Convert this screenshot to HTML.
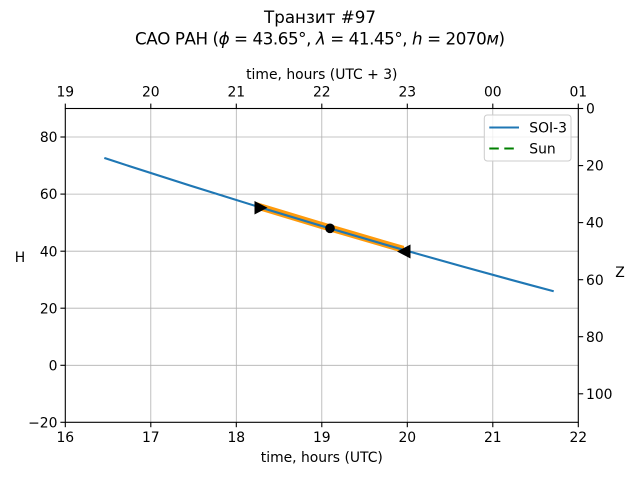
<!DOCTYPE html>
<html>
<head>
<meta charset="utf-8">
<style>
  html,body{margin:0;padding:0;background:#fff;}
  svg{display:block;}
  text{font-family:"DejaVu Sans","Liberation Sans",sans-serif;fill:#000;}
</style>
</head>
<body>
<svg width="640" height="480" viewBox="0 0 640 480" xmlns="http://www.w3.org/2000/svg">
  <rect x="0" y="0" width="640" height="480" fill="#fff"/>

  <!-- Titles -->
  <text x="320" y="23" font-size="16.7" text-anchor="middle">Транзит #97</text>
  <text x="320" y="44.5" font-size="16.7" text-anchor="middle" textLength="370" lengthAdjust="spacing">САО РАН (<tspan font-style="italic">ϕ</tspan> = 43.65°, <tspan font-style="italic">λ</tspan> = 41.45°, <tspan font-style="italic">h</tspan> = 2070<tspan font-style="italic">м</tspan>)</text>

  <!-- Grid -->
  <g stroke="#b0b0b0" stroke-width="0.8">
    <line x1="150.8" y1="108.5" x2="150.8" y2="422.3"/>
    <line x1="236.3" y1="108.5" x2="236.3" y2="422.3"/>
    <line x1="321.8" y1="108.5" x2="321.8" y2="422.3"/>
    <line x1="407.3" y1="108.5" x2="407.3" y2="422.3"/>
    <line x1="492.8" y1="108.5" x2="492.8" y2="422.3"/>
    <line x1="65.3" y1="137.0" x2="578.3" y2="137.0"/>
    <line x1="65.3" y1="194.1" x2="578.3" y2="194.1"/>
    <line x1="65.3" y1="251.2" x2="578.3" y2="251.2"/>
    <line x1="65.3" y1="308.2" x2="578.3" y2="308.2"/>
    <line x1="65.3" y1="365.3" x2="578.3" y2="365.3"/>
  </g>

  <defs>
    <clipPath id="seg"><rect x="257" y="100" width="147" height="200"/></clipPath>
  </defs>

  <!-- Orange band -->
  <path d="M105.3,158.3 Q329,231.6 552.7,291" fill="none" stroke="#ff9a0a" stroke-width="7" clip-path="url(#seg)" transform="translate(0,-0.5)"/>
  <!-- Blue line -->
  <path d="M105.3,158.3 Q329,231.6 552.7,291" fill="none" stroke="#1f77b4" stroke-width="2.1" stroke-linecap="square"/>

  <!-- Markers -->
  <polygon points="254.5,201 254.5,214.5 267.5,207.7" fill="#000"/>
  <circle cx="330" cy="228.3" r="4.8" fill="#000"/>
  <polygon points="397,251.5 410.5,244.5 410.5,258.5" fill="#000"/>

  <!-- Spines -->
  <rect x="65.3" y="108.5" width="513" height="313.8" fill="none" stroke="#000" stroke-width="1.1"/>

  <!-- Ticks -->
  <g stroke="#000" stroke-width="1.1">
    <line x1="65.3" y1="422.3" x2="65.3" y2="427.2"/>
    <line x1="150.8" y1="422.3" x2="150.8" y2="427.2"/>
    <line x1="236.3" y1="422.3" x2="236.3" y2="427.2"/>
    <line x1="321.8" y1="422.3" x2="321.8" y2="427.2"/>
    <line x1="407.3" y1="422.3" x2="407.3" y2="427.2"/>
    <line x1="492.8" y1="422.3" x2="492.8" y2="427.2"/>
    <line x1="578.3" y1="422.3" x2="578.3" y2="427.2"/>
    <line x1="65.3" y1="108.5" x2="65.3" y2="103.6"/>
    <line x1="150.8" y1="108.5" x2="150.8" y2="103.6"/>
    <line x1="236.3" y1="108.5" x2="236.3" y2="103.6"/>
    <line x1="321.8" y1="108.5" x2="321.8" y2="103.6"/>
    <line x1="407.3" y1="108.5" x2="407.3" y2="103.6"/>
    <line x1="492.8" y1="108.5" x2="492.8" y2="103.6"/>
    <line x1="578.3" y1="108.5" x2="578.3" y2="103.6"/>
    <line x1="65.3" y1="137.0" x2="60.4" y2="137.0"/>
    <line x1="65.3" y1="194.1" x2="60.4" y2="194.1"/>
    <line x1="65.3" y1="251.2" x2="60.4" y2="251.2"/>
    <line x1="65.3" y1="308.2" x2="60.4" y2="308.2"/>
    <line x1="65.3" y1="365.3" x2="60.4" y2="365.3"/>
    <line x1="65.3" y1="422.3" x2="60.4" y2="422.3"/>
    <line x1="578.3" y1="108.5" x2="583.2" y2="108.5"/>
    <line x1="578.3" y1="165.6" x2="583.2" y2="165.6"/>
    <line x1="578.3" y1="222.6" x2="583.2" y2="222.6"/>
    <line x1="578.3" y1="279.7" x2="583.2" y2="279.7"/>
    <line x1="578.3" y1="336.7" x2="583.2" y2="336.7"/>
    <line x1="578.3" y1="393.8" x2="583.2" y2="393.8"/>
  </g>

  <!-- Bottom tick labels -->
  <g font-size="13.9" text-anchor="middle">
    <text x="65.3" y="442">16</text>
    <text x="150.8" y="442">17</text>
    <text x="236.3" y="442">18</text>
    <text x="321.8" y="442">19</text>
    <text x="407.3" y="442">20</text>
    <text x="492.8" y="442">21</text>
    <text x="578.3" y="442">22</text>
  </g>
  <text x="321.8" y="462" font-size="13.9" text-anchor="middle">time, hours (UTC)</text>

  <!-- Top tick labels -->
  <g font-size="13.9" text-anchor="middle">
    <text x="65.3" y="96.5">19</text>
    <text x="150.8" y="96.5">20</text>
    <text x="236.3" y="96.5">21</text>
    <text x="321.8" y="96.5">22</text>
    <text x="407.3" y="96.5">23</text>
    <text x="492.8" y="96.5">00</text>
    <text x="578.3" y="96.5">01</text>
  </g>
  <text x="321.8" y="79" font-size="13.9" text-anchor="middle">time, hours (UTC + 3)</text>

  <!-- Left tick labels -->
  <g font-size="13.9" text-anchor="end">
    <text x="57.5" y="142.1">80</text>
    <text x="57.5" y="199.2">60</text>
    <text x="57.5" y="256.3">40</text>
    <text x="57.5" y="313.3">20</text>
    <text x="57.5" y="370.4">0</text>
    <text x="57.5" y="427.4">−20</text>
  </g>
  <text x="20" y="262" font-size="13.9" text-anchor="middle">H</text>

  <!-- Right tick labels -->
  <g font-size="13.9" text-anchor="start">
    <text x="586" y="113.6">0</text>
    <text x="586" y="170.7">20</text>
    <text x="586" y="227.7">40</text>
    <text x="586" y="284.8">60</text>
    <text x="586" y="341.8">80</text>
    <text x="586" y="398.9">100</text>
  </g>
  <text x="620" y="277" font-size="13.9" text-anchor="middle">Z</text>

  <!-- Legend -->
  <rect x="484.3" y="115" width="86.7" height="46" rx="3" ry="3" fill="#fff" fill-opacity="0.8" stroke="#cccccc" stroke-width="1"/>
  <line x1="489.3" y1="127.5" x2="519" y2="127.5" stroke="#1f77b4" stroke-width="2.1"/>
  <text x="529.3" y="132.5" font-size="13.9">SOI-3</text>
  <line x1="489.3" y1="148.5" x2="519" y2="148.5" stroke="#008000" stroke-width="2.1" stroke-dasharray="9.5,5.5"/>
  <text x="529.3" y="153.5" font-size="13.9">Sun</text>
</svg>
</body>
</html>
